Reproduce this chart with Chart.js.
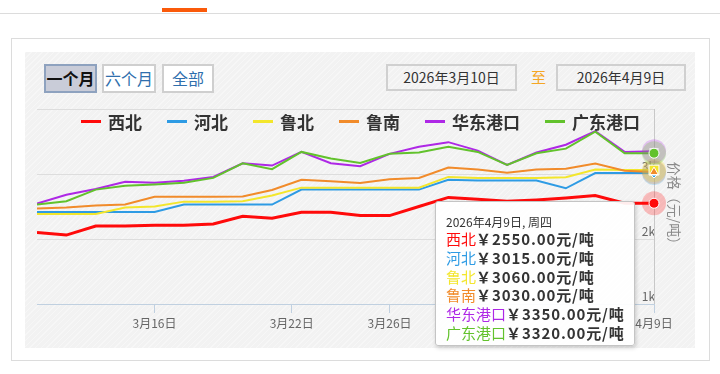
<!DOCTYPE html>
<html lang="zh-CN">
<head>
<meta charset="utf-8">
<title>价格走势</title>
<script src="https://cdn.jsdelivr.net/npm/chart.js@4.4.1/dist/chart.umd.min.js"></script>
<style>
    html, body { margin: 0; padding: 0; background: #fff; }
    body {
        width: 720px; height: 374px; position: relative; overflow: hidden;
        font-family: "Noto Sans CJK SC", "Noto Sans", sans-serif;
    }
    .topline { position: absolute; left: 0; top: 13px; width: 720px; height: 1px; background: #dcdcdc; }
    .tabmark { position: absolute; left: 162px; top: 8px; width: 45px; height: 4px; background: #fa5a0a; }
    .panel { position: absolute; left: 11px; top: 38px; width: 697px; height: 321px; border: 1px solid #dcdcdc; }
    .paper {
        position: absolute; left: 25px; top: 52px; width: 670px; height: 296px;
        background-color: #f2f2f2;
        background-image: repeating-linear-gradient(135deg, rgba(255,255,255,0.35) 0 1px, transparent 1px 4px);
    }
    .btn {
        position: absolute; top: 64px; height: 29px; box-sizing: border-box;
        border: 2px solid #cfcfcf; background: #fff; color: #2f6fad;
        font-size: 16px; line-height: 25px; text-align: center;
    }
    .btn.on { background: #c9ccd8; border-color: #8ea2bf; color: #111; font-weight: 700; }
    .date {
        position: absolute; top: 64px; height: 27px; box-sizing: border-box;
        border: 2px solid #d0d0d0; color: #333; font-size: 14px; line-height: 23px; text-align: center;
    }
    .to { position: absolute; left: 531px; top: 66px; color: #f5a623; font-size: 15px; }
    #legend {
        position: absolute; left: 81px; top: 109px; height: 24px;
        display: flex; align-items: center;
    }
    .item { display: flex; align-items: center; margin-right: 25px; }
    .item i { display: inline-block; width: 20px; height: 3px; margin-right: 7px; }
    .item span { font-size: 17px; font-weight: 700; color: #333; }
    #chartBox { position: absolute; left: 25px; top: 52px; width: 670px; height: 296px; }
    #tip {
        position: absolute; width: 200px; box-sizing: border-box;
        padding: 11px 0 3px 10px; background: rgba(255,255,255,0.93);
        border: 1px solid #c4c4c4; border-radius: 3px;
        box-shadow: 1px 2px 4px rgba(0,0,0,0.18);
        color: #333; white-space: nowrap;
    }
    #tip .hd { font-size: 12px; line-height: 17px; }
    #tip .row { font-size: 15px; line-height: 18.7px; }
    #tip .row b { letter-spacing: 0.9px; }
</style>
</head>
<body>
<div class="topline"></div>
<div class="tabmark"></div>
<div class="panel"></div>
<div class="paper"></div>

<div class="btn on" style="left:44px;width:53px;">一个月</div>
<div class="btn" style="left:102px;width:54px;">六个月</div>
<div class="btn" style="left:162px;width:52px;">全部</div>
<div class="date" style="left:386px;width:131px;">2026年3月10日</div>
<div class="to">至</div>
<div class="date" style="left:556px;width:130px;">2026年4月9日</div>

<div id="chartBox">
    <canvas id="priceChart"></canvas>
    <div id="tip"></div>
</div>
<div id="legend"></div>

<script>
// trading days shown on the axis (4/6 holiday skipped)
const dates = [
    '2026-03-10', '2026-03-11', '2026-03-12', '2026-03-13',
    '2026-03-16', '2026-03-17', '2026-03-18', '2026-03-19', '2026-03-20',
    '2026-03-23', '2026-03-24', '2026-03-25', '2026-03-26', '2026-03-27',
    '2026-03-30', '2026-03-31', '2026-04-01', '2026-04-02', '2026-04-03',
    '2026-04-07', '2026-04-08', '2026-04-09'
];

const seriesNames = ['西北', '河北', '鲁北', '鲁南', '华东港口', '广东港口'];

// 元/吨
const xibei = [2100, 2060, 2200, 2200, 2210, 2210, 2230, 2350, 2320, 2410, 2410, 2360, 2360, 2500, 2640, 2610, 2580, 2600, 2630, 2670, 2550, 2550];
const hebei = [2415, 2415, 2415, 2415, 2415, 2530, 2530, 2530, 2530, 2760, 2760, 2760, 2760, 2760, 2910, 2900, 2900, 2900, 2780, 3015, 3015, 3015];
const lubei = [2385, 2385, 2385, 2485, 2500, 2575, 2575, 2580, 2670, 2790, 2790, 2790, 2790, 2790, 2955, 2940, 2940, 2940, 2950, 3070, 3060, 3060];
const lunan = [2470, 2485, 2515, 2530, 2650, 2650, 2650, 2655, 2755, 2910, 2890, 2860, 2920, 2940, 3100, 3070, 3020, 3070, 3080, 3160, 3050, 3030];
const huadong = [2545, 2680, 2770, 2880, 2865, 2895, 2955, 3165, 3130, 3340, 3165, 3120, 3310, 3420, 3490, 3360, 3140, 3330, 3450, 3660, 3340, 3350];
const guangdong = [2530, 2580, 2760, 2820, 2840, 2865, 2940, 3165, 3075, 3340, 3240, 3170, 3310, 3330, 3420, 3340, 3140, 3320, 3390, 3650, 3320, 3320];
const seriesValues = [xibei, hebei, lubei, lunan, huadong, guangdong];

const tickDates = ['2026-03-16', '2026-03-22', '2026-03-26', '2026-04-09'];
const tickLabels = ['3月16日', '3月22日', '3月26日', '4月9日'];
const yTicks = [1000, 2000, 3000, 4000];

// styles
const seriesColors = ['#ff0a0a', '#2e9be4', '#f3e62c', '#f18b2a', '#ae28e6', '#62c22c'];
const markerStyles = ['circle', 'rectRot', 'rect', 'triangle', 'triangle', 'circle'];
const markerRotation = [0, 0, 0, 0, 180, 0];
const weekNames = ['日', '一', '二', '三', '四', '五', '六'];

// position of a calendar date on the ordinal (trading-day) axis
function ordinalPos(day) {
    const t = Date.parse(day);
    for (let i = 0; i < dates.length - 1; i++) {
        const a = Date.parse(dates[i]);
        const b = Date.parse(dates[i + 1]);
        if (t >= a && t < b) return i + (t - a) / (b - a);
    }
    return dates.length - 1;
}

function hexA(hex, a) {
    const n = parseInt(hex.slice(1), 16);
    return `rgba(${n >> 16}, ${(n >> 8) & 255}, ${n & 255}, ${a})`;
}

const lastIdx = dates.length - 1;

// crosshair + halo/markers on the hovered (last) day
const hoverPlugin = {
    id: 'hoverState',
    beforeDatasetsDraw(chart) {
        const pt = chart.getDatasetMeta(0).data[lastIdx];
        const area = chart.chartArea;
        const ctx = chart.ctx;
        ctx.save();
        ctx.strokeStyle = '#c8c8c8';
        ctx.lineWidth = 1;
        ctx.beginPath();
        ctx.moveTo(Math.round(pt.x) + 0.5, area.top);
        ctx.lineTo(Math.round(pt.x) + 0.5, area.bottom);
        ctx.stroke();
        ctx.restore();
    },
    afterDatasetsDraw(chart) {
        const ctx = chart.ctx;
        ctx.save();
        seriesValues.forEach((vals, i) => {
            const pt = chart.getDatasetMeta(i).data[lastIdx];
            ctx.fillStyle = hexA(seriesColors[i], 0.25);
            ctx.beginPath();
            ctx.arc(pt.x, pt.y, 12, 0, Math.PI * 2);
            ctx.fill();
        });
        seriesValues.forEach((vals, i) => {
            const pt = chart.getDatasetMeta(i).data[lastIdx];
            ctx.fillStyle = seriesColors[i];
            ctx.strokeStyle = '#ffffff';
            Chart.helpers.drawPoint(ctx, {
                pointStyle: markerStyles[i],
                rotation: markerRotation[i],
                radius: markerStyles[i] === 'rect' ? 7 : 5,
                borderWidth: 1
            }, pt.x, pt.y);
        });
        ctx.restore();
    }
};

const xTickPos = tickDates.map(ordinalPos);

const chart = new Chart(document.getElementById('priceChart'), {
    type: 'line',
    data: {
        datasets: seriesValues.map((vals, i) => ({
            label: seriesNames[i],
            data: vals.map((v, j) => ({ x: j, y: v })),
            borderColor: seriesColors[i],
            borderWidth: i === 0 ? 3 : 2,
            pointRadius: 0,
            tension: 0,
            fill: false,
            order: seriesValues.length - 1 - i
        }))
    },
    options: {
        responsive: true,
        maintainAspectRatio: false,
        animation: false,
        events: [],
        layout: { padding: { left: 12, top: 57, right: 10.6, bottom: 14.6 } },
        plugins: {
            legend: { display: false },
            tooltip: { enabled: false }
        },
        scales: {
            x: {
                type: 'linear',
                min: 0,
                max: lastIdx,
                border: { display: true, color: '#c0d0e0' },
                grid: { drawOnChartArea: false, color: '#c0d0e0', tickLength: 9 },
                afterBuildTicks: scale => {
                    scale.ticks = xTickPos.map(v => ({ value: v }));
                },
                ticks: {
                    autoSkip: false,
                    maxRotation: 0,
                    padding: 3,
                    color: '#666',
                    font: { family: '"Noto Sans CJK SC", sans-serif', size: 12 },
                    callback: (value, index) => tickLabels[index]
                }
            },
            y: {
                position: 'right',
                min: yTicks[0],
                max: yTicks[yTicks.length - 1],
                border: { display: false },
                grid: {
                    drawTicks: false,
                    color: ctx => (ctx.tick && ctx.tick.value === yTicks[0]) ? 'rgba(0,0,0,0)' : '#dddddd'
                },
                afterBuildTicks: scale => {
                    scale.ticks = yTicks.map(v => ({ value: v }));
                },
                ticks: {
                    mirror: true,
                    padding: 1,
                    labelOffset: -8,
                    color: '#666',
                    font: { family: '"Noto Sans CJK SC", sans-serif', size: 12 },
                    callback: v => v === yTicks[yTicks.length - 1] ? '' : (v / 1000) + 'k'
                },
                title: {
                    display: true,
                    text: '价格（元/吨）',
                    color: '#8a8a8a',
                    font: { family: '"Noto Sans CJK SC", sans-serif', size: 14 },
                    padding: { top: 2, bottom: 9.6 }
                }
            }
        }
    },
    plugins: [hoverPlugin]
});

// legend
const legendEl = document.getElementById('legend');
seriesNames.forEach((name, i) => {
    const item = document.createElement('div');
    item.className = 'item';
    item.innerHTML = `<i style="background:${seriesColors[i]}"></i><span>${name}</span>`;
    legendEl.appendChild(item);
});

// shared tooltip for the last day
function buildTooltip() {
    const tip = document.getElementById('tip');
    const d = new Date(dates[lastIdx] + 'T00:00:00');
    let html = `<div class="hd">${d.getFullYear()}年${d.getMonth() + 1}月${d.getDate()}日, 周${weekNames[d.getDay()]}</div>`;
    seriesNames.forEach((name, i) => {
        const v = seriesValues[i][lastIdx].toFixed(2);
        html += `<div class="row"><span style="color:${seriesColors[i]}">${name}</span><b>￥${v}元/吨</b></div>`;
    });
    tip.innerHTML = html;

    const pts = seriesValues.map((vals, i) => chart.getDatasetMeta(i).data[lastIdx]);
    const lowY = Math.max(...pts.map(p => p.y));
    tip.style.left = (pts[0].x - 19 - tip.offsetWidth) + 'px';
    tip.style.top = (lowY - 2) + 'px';
}
buildTooltip();
</script>
</body>
</html>
